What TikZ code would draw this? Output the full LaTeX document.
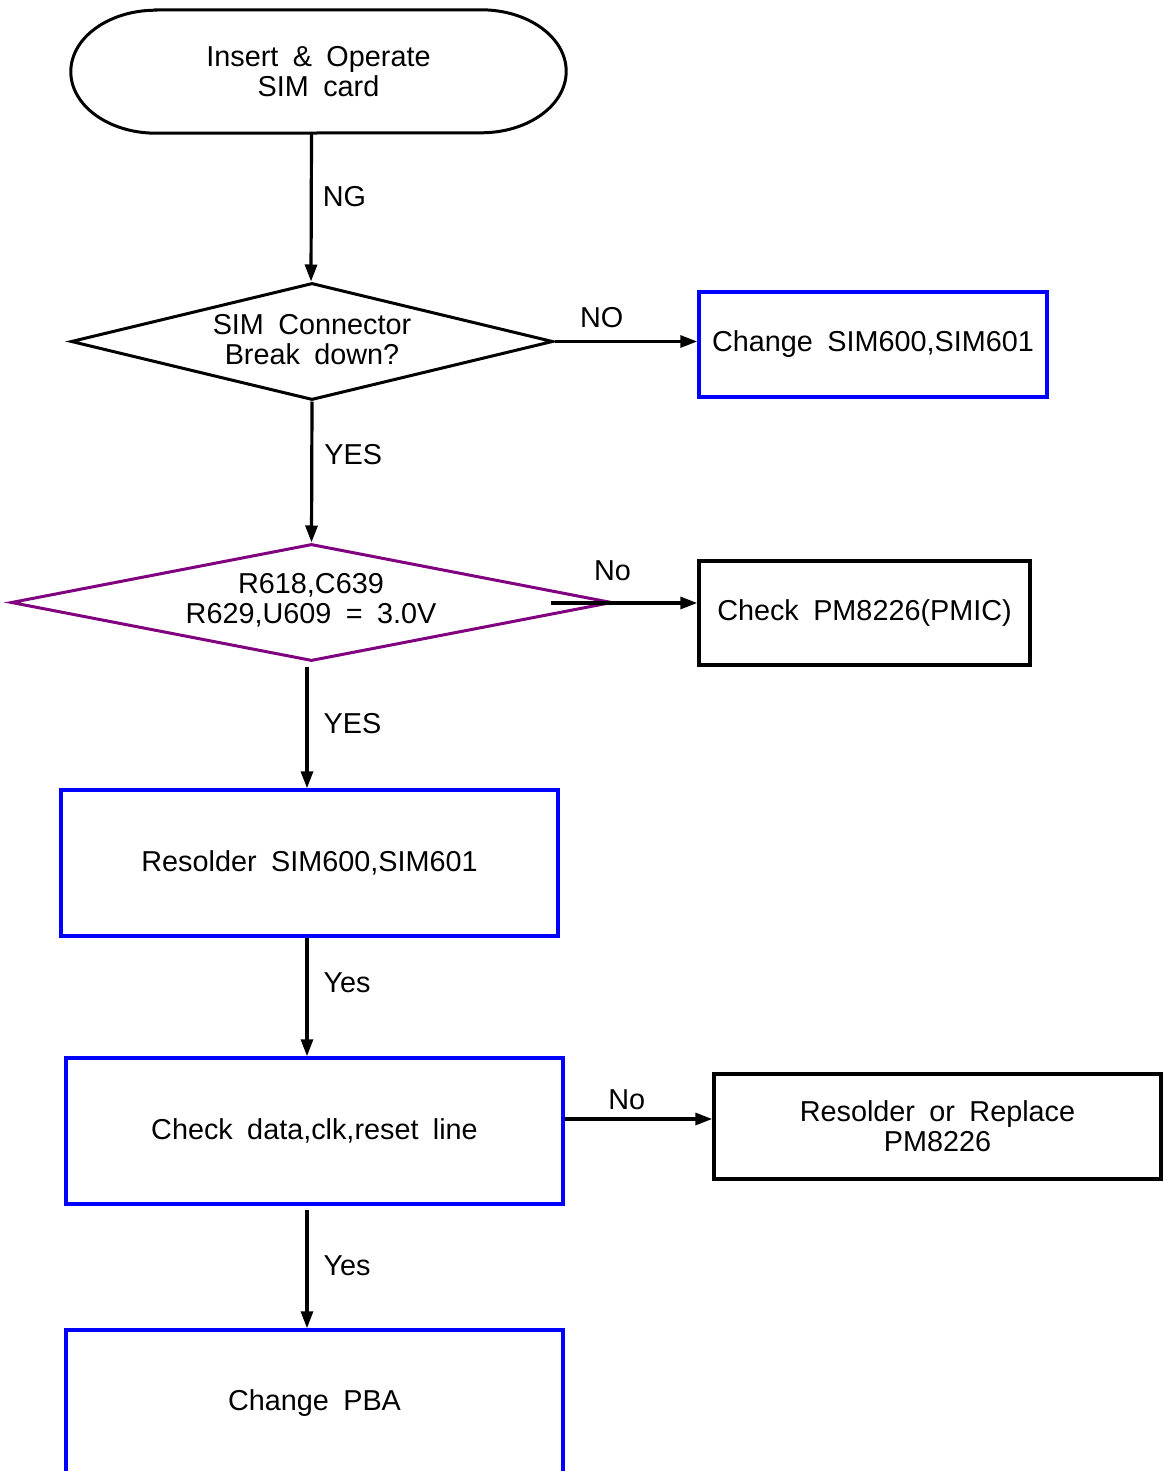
\documentclass[tikz,border=0pt]{standalone}
\usepackage{fontspec}
\setmainfont{Liberation Sans}
\usetikzlibrary{shapes.geometric,arrows.meta}
\definecolor{boxblue}{RGB}{0,0,255}
\definecolor{dpurple}{RGB}{128,0,128}
\newcommand{\wsp}{\hspace{0.5em}}
\begin{document}
\begin{tikzpicture}[x=1pt,y=-1pt,
  every node/.style={font=\fontsize{28.8}{30}\selectfont, inner sep=0pt, align=center},
  bluebox/.style={draw=boxblue, line width=3.5pt, rectangle},
  blackbox/.style={draw=black, line width=3.5pt, rectangle},
  dia/.style={diamond, line width=3pt},
  arr/.style={draw, line width=3.2pt, -{Triangle[length=17pt,width=12pt]}},
  lab/.style={anchor=west}
]
\useasboundingbox (0,0) rectangle (1163,1471);
\clip (0,0) rectangle (1163,1471);
\fill[white] (0,0) rectangle (1163,1471);

% start terminal
\node[minimum width=495pt, minimum height=123pt] (start) at (318.5,71.5) {Insert\wsp\&\wsp Operate\\SIM\wsp card};
\draw[line width=3pt] ([xshift=85pt]start.north west) -- ([xshift=-85pt]start.north east)
  arc[start angle=90,end angle=-90,x radius=85pt,y radius=61.5pt]
  -- ([xshift=85pt]start.south west)
  arc[start angle=270,end angle=90,x radius=85pt,y radius=61.5pt] -- cycle;

% decision 1
\node[dia, draw=black, minimum width=482pt, minimum height=117pt] (d1) at (312,341.5) {};
\node at (312,340) {SIM\wsp Connector\\Break\wsp down?};

% box 1
\node[bluebox, minimum width=348pt, minimum height=105pt] (b1) at (873,344.5) {Change\wsp SIM600,SIM601};

% decision 2
\node[dia, draw=dpurple, minimum width=601pt, minimum height=117pt] (d2) at (311.5,602.5) {};
\node at (311,600) {R618,C639\\R629,U609\wsp =\wsp 3.0V};
\coordinate (d2in) at (551,603);

% box 2
\node[blackbox, minimum width=331pt, minimum height=104pt] (b2) at (864.5,613) {Check\wsp PM8226(PMIC)};

% box 3
\node[bluebox, minimum width=497pt, minimum height=146pt] (b3) at (309.5,863) {Resolder\wsp SIM600,SIM601};

% box 4
\node[bluebox, minimum width=497pt, minimum height=146pt] (b4) at (314.5,1131) {Check\wsp data,clk,reset\wsp line};

% box 5
\node[blackbox, minimum width=447pt, minimum height=105pt] (b5) at (937.5,1126.5) {Resolder\wsp or\wsp Replace\\PM8226};

% box 6 (cut off by the page)
\node[bluebox, minimum width=497pt, minimum height=146pt] (b6) at (314.5,1403) {Change\wsp PBA};

% connectors
\draw[arr] ([xshift=-7pt]start.south) -- ([xshift=-1pt]d1.north) node[pos=0.43, lab, xshift=10pt] {NG};
\draw[arr] (d1.east) -- (d1.east -| b1.west) node[pos=0.33, above=12pt] {NO};
\draw[arr] (d1.south) -- (d2.north) node[pos=0.38, lab, xshift=11pt] {YES};
\draw[arr] (d2in) -- (d2in -| b2.west) node[pos=0.42, above=21pt] {No};
\draw[arr] ([shift={(-4.5,4)}]d2.south) -- ([xshift=-2.5pt]b3.north) node[pos=0.47, lab, xshift=15pt] {YES};
\draw[arr] ([xshift=-2.5pt]b3.south) -- ([xshift=-7.5pt]b4.north) node[pos=0.38, lab, xshift=15pt] {Yes};
\draw[arr] ([yshift=12pt]b4.east) coordinate (b4out) -- (b4out -| b5.west) node[pos=0.42, above=8pt] {No};
\draw[arr] ([shift={(-7.5,4)}]b4.south) -- ([xshift=-7.5pt]b6.north) node[pos=0.47, lab, xshift=15pt] {Yes};
\end{tikzpicture}
\end{document}
